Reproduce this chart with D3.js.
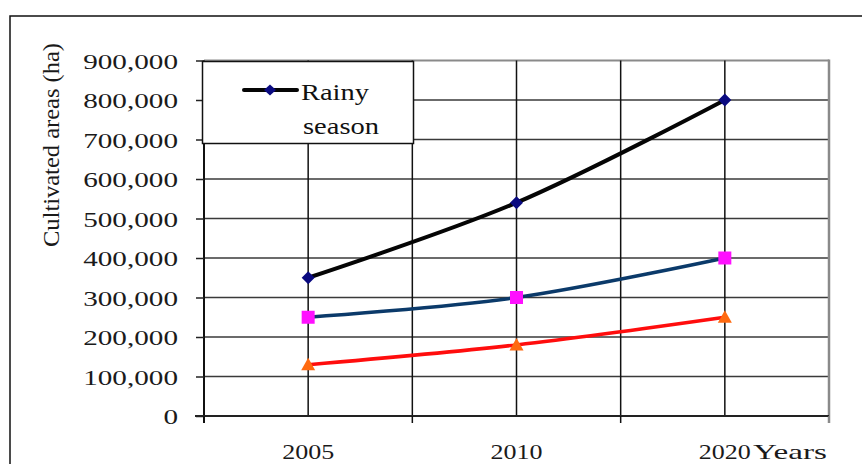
<!DOCTYPE html>
<html>
<head>
<meta charset="utf-8">
<script src="https://cdn.jsdelivr.net/npm/d3@7"></script>
<style>
  html, body { margin: 0; padding: 0; background: #fff; }
  svg { display: block; }
  svg text { font-family: "Liberation Serif", "Times New Roman", Times, "Nimbus Roman", serif; }
</style>
</head>
<body>
<svg id="chart" width="862" height="464"></svg>
<script>
// Cultivated areas by year (ha)
const years = ["2005", "2010", "2020"];
const rainySeason = [350000, 540000, 800000];
const seriesB = [250000, 300000, 400000];
const seriesC = [130000, 180000, 250000];
const yTicks = [0, 100000, 200000, 300000, 400000, 500000, 600000, 700000, 800000, 900000];
const yTitle = "Cultivated areas (ha)";
const xTitle = "Years";
const legendLabel = ["Rainy", "season"];

const svg = d3.select("#chart");
const plot = { left: 204, right: 829, top: 60.5, bottom: 416 };

// wide serif numerals: width per character
const numWidth = (s, dw, cw) => Array.from(s).reduce((w, c) => w + (c === "," ? cw : dw), 0);

const x = d3.scaleBand().domain(years).range([plot.left, plot.right]).paddingInner(0).paddingOuter(0);
const y = d3.scaleLinear().domain([0, 900000]).range([plot.bottom, plot.top]);
const cx = d => x(d) + x.bandwidth() / 2;

// outer frame
svg.append("rect")
  .attr("x", 10).attr("y", 16).attr("width", 900).attr("height", 500)
  .attr("fill", "none").attr("stroke", "#111").attr("stroke-width", 1.5);

// horizontal gridlines
svg.append("g").selectAll("line")
  .data(yTicks.filter(v => v > 0))
  .join("line")
  .attr("x1", plot.left).attr("x2", plot.right)
  .attr("y1", d => y(d)).attr("y2", d => y(d))
  .attr("stroke", d => d === 900000 ? "#8a8a8a" : "#3a3a3a")
  .attr("stroke-width", d => d === 900000 ? 2 : 1.5);

// vertical gridlines at category edges and centres
const vLines = [];
years.forEach((d, i) => { if (i > 0) vLines.push(x(d)); vLines.push(cx(d)); });
svg.append("g").selectAll("line")
  .data(vLines)
  .join("line")
  .attr("x1", d => d).attr("x2", d => d)
  .attr("y1", plot.top).attr("y2", plot.bottom)
  .attr("stroke", "#111").attr("stroke-width", 1.5);

// right border
svg.append("line")
  .attr("x1", plot.right).attr("x2", plot.right)
  .attr("y1", plot.top - 1).attr("y2", plot.bottom + 7)
  .attr("stroke", "#8a8a8a").attr("stroke-width", 2.5);

// y axis
const yAxis = d3.axisLeft(y).tickValues(yTicks).tickSize(8).tickPadding(0)
  .tickFormat(d3.format(","));
const gy = svg.append("g").attr("transform", `translate(${plot.left},0)`).call(yAxis)
  .attr("font-family", null).attr("font-size", null);
gy.select(".domain").attr("stroke", "#111").attr("stroke-width", 2)
  .attr("d", `M0,${plot.top}V${plot.bottom + 7}`);
gy.selectAll(".tick line").attr("stroke", "#222").attr("stroke-width", 1.5);
gy.selectAll(".tick text")
  .attr("x", -26).attr("dy", "0.36em")
  .attr("font-size", 21).attr("fill", "#1a1a1a")
  .attr("textLength", function() { return numWidth(this.textContent, 14.6, 7.2); })
  .attr("lengthAdjust", "spacingAndGlyphs");

// x axis: baseline, ticks at category edges, labels at centres
const xAxis = d3.axisBottom(x).tickSize(0).tickPadding(0);
const gx = svg.append("g").attr("transform", `translate(0,${plot.bottom})`).call(xAxis)
  .attr("font-family", null).attr("font-size", null);
gx.select(".domain").attr("stroke", "#222").attr("stroke-width", 2)
  .attr("d", `M${plot.left - 9},0H${plot.right}`);
gx.selectAll(".tick text")
  .attr("y", 43).attr("dy", 0)
  .attr("font-size", 21).attr("fill", "#1a1a1a")
  .attr("textLength", function() { return numWidth(this.textContent, 13, 6.5); })
  .attr("lengthAdjust", "spacingAndGlyphs");
const edges = [plot.left].concat(years.map(d => x(d) + x.bandwidth()));
svg.append("g").selectAll("line")
  .data(edges)
  .join("line")
  .attr("x1", d => d).attr("x2", d => d)
  .attr("y1", plot.bottom).attr("y2", plot.bottom + 7)
  .attr("stroke", (d, i) => i === edges.length - 1 ? "#8a8a8a" : "#111")
  .attr("stroke-width", 1.5);

// axis titles
svg.append("text")
  .attr("transform", "translate(59,145) rotate(-90)")
  .attr("text-anchor", "middle")
  .attr("font-size", 23)
  .attr("textLength", 204).attr("lengthAdjust", "spacingAndGlyphs")
  .attr("fill", "#1a1a1a")
  .text(yTitle);
svg.append("text")
  .attr("x", 753).attr("y", 459)
  .attr("font-size", 21)
  .attr("textLength", 74).attr("lengthAdjust", "spacingAndGlyphs")
  .attr("fill", "#1a1a1a")
  .text(xTitle);

// series lines
const curve = d3.curveCatmullRom.alpha(0.5);
const line = d3.line().x((d, i) => cx(years[i])).y(d => y(d)).curve(curve);

const series = [
  { values: seriesC, stroke: "#ff0d0d", width: 3.5, marker: "triangle", fill: "#ff6a10" },
  { values: seriesB, stroke: "#0b3a6a", width: 3.5, marker: "square", fill: "#ff10ff" },
  { values: rainySeason, stroke: "#050505", width: 4, marker: "diamond", fill: "#0a0a80" }
];

const markerPath = {
  diamond: "M0,-6.5L6.5,0L0,6.5L-6.5,0Z",
  square: "M-6.5,-6.5H6.5V6.5H-6.5Z",
  triangle: "M0,-7L7,5.5H-7Z"
};

series.forEach(s => {
  svg.append("path")
    .datum(s.values)
    .attr("d", line)
    .attr("fill", "none")
    .attr("stroke", s.stroke)
    .attr("stroke-width", s.width)
    .attr("stroke-linecap", "round");
});
series.forEach(s => {
  svg.append("g").selectAll("path")
    .data(s.values)
    .join("path")
    .attr("transform", (d, i) => `translate(${cx(years[i])},${y(d)})`)
    .attr("d", markerPath[s.marker])
    .attr("fill", s.fill);
});

// legend
const lg = svg.append("g");
lg.append("rect")
  .attr("x", 202.5).attr("y", 61.5).attr("width", 211).attr("height", 82)
  .attr("fill", "#fff").attr("stroke", "#111").attr("stroke-width", 1.5);
lg.append("line")
  .attr("x1", 244).attr("x2", 297).attr("y1", 90).attr("y2", 90)
  .attr("stroke", "#050505").attr("stroke-width", 4).attr("stroke-linecap", "round");
lg.append("path")
  .attr("transform", "translate(270,90)")
  .attr("d", "M0,-5.5L6,0L0,5.5L-6,0Z")
  .attr("fill", "#0a0a80");
lg.append("text")
  .attr("x", 301).attr("y", 100)
  .attr("font-size", 23).attr("fill", "#111")
  .attr("textLength", 68).attr("lengthAdjust", "spacingAndGlyphs")
  .text(legendLabel[0]);
lg.append("text")
  .attr("x", 303).attr("y", 134)
  .attr("font-size", 23).attr("fill", "#111")
  .attr("textLength", 76).attr("lengthAdjust", "spacingAndGlyphs")
  .text(legendLabel[1]);
</script>
</body>
</html>
